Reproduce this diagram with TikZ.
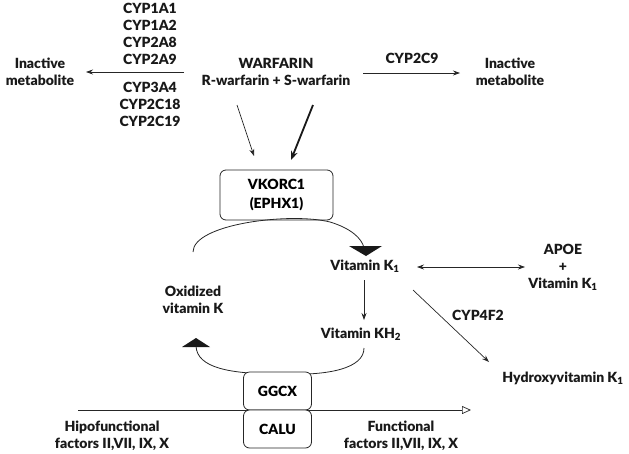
\documentclass[tikz,border=0pt]{standalone}
\usepackage{fontspec}
\setmainfont{Lato}[BoldFont={Lato Black}]
\usetikzlibrary{arrows.meta}
\begin{document}
\begin{tikzpicture}[x=1pt,y=-1pt,
  lbl/.style={font=\bfseries\fontsize{14}{17}\selectfont, align=center, inner sep=1pt, text=black!90},
  arr/.style={draw=black!85, line width=0.7pt, -{Stealth[length=7pt,width=5pt]}},
  rbox/.style={draw=black!85, line width=0.8pt, rounded corners=6pt, align=center, font=\bfseries\fontsize{14}{19}\selectfont, inner sep=0pt},
  flathead/.style={fill=black!90, draw=none}]
\useasboundingbox (0,0) rectangle (629,453);
% left enzymes
\node[lbl] (e1) at (150,8) {CYP1A1};
\node[lbl] (e2) at (150,25) {CYP1A2};
\node[lbl] (e3) at (150,42) {CYP2A8};
\node[lbl] (e4) at (150,59) {CYP2A9};
\node[lbl] (e5) at (150,87) {CYP3A4};
\node[lbl] (e6) at (150,104) {CYP2C18};
\node[lbl] (e7) at (150,121) {CYP2C19};
\node[lbl] (inl) at (40,72) {Inactive\\metabolite};
\node[lbl] (war) at (276,72) {WARFARIN\\R-warfarin + S-warfarin};
\node[lbl] (inr) at (510,72) {Inactive\\metabolite};
\node[lbl] (c2c9) at (412,58) {CYP2C9};
\coordinate (la) at (184,72);
\coordinate (lb) at (86,72);
\draw[arr] (la) -- (lb);
\coordinate (ra) at (363,73);
\coordinate (rb) at (460,73);
\draw[arr] (ra) -- (rb);
% VKORC1
\node[rbox, minimum width=113pt, minimum height=50pt] (vk) at (276.5,195) {VKORC1\\(EPHX1)};
\coordinate (t1a) at (237,105);
\coordinate (t1b) at (254,156);
\coordinate (t2a) at (313,105);
\coordinate (t2b) at (291,160);
\draw[arr] (t1a) -- (t1b);
\draw[draw=black!90, line width=1.8pt, -{Stealth[length=9pt,width=7pt]}] (t2a) -- (t2b);
% vitamins
\node[lbl] (k1) at (365,266) {Vitamin K\textsubscript{1}};
\node[lbl] (kh2) at (361,334) {Vitamin KH\textsubscript{2}};
\node[lbl] (ox) at (193,300) {Oxidized\\vitamin K};
\node[lbl] (apoe) at (563,267) {APOE\\+\\Vitamin K\textsubscript{1}};
\node[lbl] (hyd) at (563,378) {Hydroxyvitamin K\textsubscript{1}};
\node[lbl] (c4f2) at (478,315) {CYP4F2};
\draw[arr] (364,280) -- (364,320);
\coordinate (da) at (417,267);
\coordinate (db) at (525,267);
\draw[arr, {Stealth[length=7pt,width=5pt]}-{Stealth[length=7pt,width=5pt]}] (da) -- (db);
\coordinate (ca1) at (413,290);
\coordinate (ca2) at (489,362);
\draw[arr] (ca1) -- (ca2);
% upper curve
\draw[draw=black!85, line width=0.8pt] (193,252) .. controls (193,224) and (290,212) .. (330,222) .. controls (350,228) and (362,238) .. (364,248);
\fill[flathead] (349,246) -- (382,246) -- (366,256) -- cycle;
% lower curve
\draw[draw=black!85, line width=0.8pt] (364,348) .. controls (364,368) and (330,376) .. (280,374) .. controls (230,374) and (197,368) .. (196,346);
\fill[flathead] (182,347) -- (210,347) -- (196,338) -- cycle;
% GGCX/CALU
\coordinate (ba) at (78,410);
\coordinate (bb) at (471,410);
\draw[arr, -{Triangle[open,length=9pt,width=8pt,fill=white]}] (ba) -- (bb);
\node[rbox, fill=white, minimum width=68pt, minimum height=38pt] (gg) at (277.5,391) {GGCX};
\node[rbox, fill=white, minimum width=68pt, minimum height=38pt] (ca) at (277.5,429) {CALU};
\node[lbl] (hip) at (112,436) {Hipofunctional\\factors II,VII, IX, X};
\node[lbl] (fun) at (401,436) {Functional\\factors II,VII, IX, X};
\end{tikzpicture}
\end{document}
